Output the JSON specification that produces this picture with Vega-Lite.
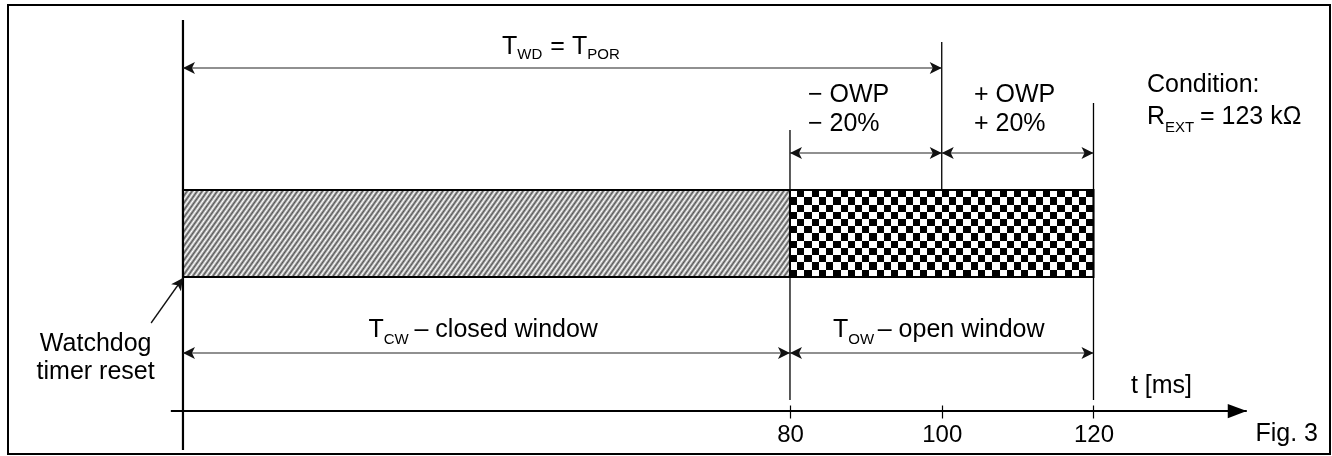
{
"$schema": "https://vega.github.io/schema/vega-lite/v6.json",
"width": 1332, "height": 456,
"autosize": {"type": "fit", "contains": "padding"},
"padding": {"left": 8, "top": 5, "right": 2, "bottom": 2},
"background": "white",
"config": {
  "view": {"stroke": "black", "strokeWidth": 2},
  "font": "Liberation Sans",
  "text": {"font": "Liberation Sans", "fontSize": 25, "color": "black", "align": "left", "baseline": "alphabetic"}
},
"datasets": {
  "phases": [
    {"phase": "closed", "t": 0, "t2": 80, "v": 26.4, "v2": 17.7},
    {"phase": "open", "t": 80, "t2": 120, "v": 26.4, "v2": 17.7}
  ],
  "markers": [
    {"t": 0, "v": 43.4, "v2": 0.4},
    {"t": 80, "v": 32.4, "v2": 5.4},
    {"t": 100, "v": 41.2, "v2": 26.4},
    {"t": 120, "v": 35.1, "v2": 5.4}
  ],
  "spans": [
    {"name": "T_WD", "t": 0, "t2": 100, "v": 38.6},
    {"name": "-OWP", "t": 80, "t2": 100, "v": 30.1},
    {"name": "+OWP", "t": 100, "t2": 120, "v": 30.1},
    {"name": "T_CW", "t": 0, "t2": 80, "v": 10.1},
    {"name": "T_OW", "t": 80, "t2": 120, "v": 10.1}
  ],
  "timeaxis": [{"t": -1.6, "t2": 140.2, "v": 4.3}],
  "pointer": [{"t": -4.2, "v": 13.1, "t2": 0, "v2": 17.6}],
  "notes": [
    {"id": "twd", "t": 50, "v": 40.0},
    {"id": "owpm", "t": 80, "v": 35.2},
    {"id": "owpp", "t": 100, "v": 35.2},
    {"id": "cond", "t": 120, "v": 36.2},
    {"id": "rext", "t": 120, "v": 33.0},
    {"id": "cw", "t": 40, "v": 11.7},
    {"id": "ow", "t": 100, "v": 11.7},
    {"id": "wd", "t": 0, "v": 10.3},
    {"id": "tms", "t": 120, "v": 6.1},
    {"id": "fig", "t": 151.17, "v": 1.3}
  ]
},
"encoding": {
  "x": {"field": "t", "type": "quantitative", "title": null,
        "scale": {"domain": [-23.06, 151.17], "nice": false, "zero": false},
        "axis": {"values": [80, 100, 120], "domain": false, "grid": false, "ticks": true, "tickSize": 13, "tickWidth": 1.2, "tickColor": "black",
                 "labelFontSize": 24, "labelFont": "Liberation Sans", "labelColor": "black", "labelBaseline": "alphabetic", "labelPadding": 23,
                 "labelFlush": false, "labelOverlap": false, "title": null, "offset": -49}},
  "y": {"field": "v", "type": "quantitative", "title": null,
        "scale": {"domain": [0, 44.9], "nice": false, "zero": false}, "axis": null}
},
"layer": [
  {"data": {"name": "phases"}, "transform": [{"filter": "datum.phase === 'closed'"}],
   "mark": {"type": "rect", "strokeWidth": 0, "fill": {"gradient": "linear", "x1": 0, "y1": 0, "x2": 1.09, "y2": 0.1095, "stops": [
{"offset":0,"color":"#555"},{"offset":0.00375,"color":"#fff"},{"offset":0.0075,"color":"#555"},{"offset":0.01125,"color":"#fff"},{"offset":0.015,"color":"#555"},{"offset":0.01875,"color":"#fff"},{"offset":0.0225,"color":"#555"},{"offset":0.02625,"color":"#fff"},
{"offset":0.03,"color":"#555"},{"offset":0.03375,"color":"#fff"},{"offset":0.0375,"color":"#555"},{"offset":0.04125,"color":"#fff"},{"offset":0.045,"color":"#555"},{"offset":0.04875,"color":"#fff"},{"offset":0.0525,"color":"#555"},{"offset":0.05625,"color":"#fff"},
{"offset":0.06,"color":"#555"},{"offset":0.06375,"color":"#fff"},{"offset":0.0675,"color":"#555"},{"offset":0.07125,"color":"#fff"},{"offset":0.075,"color":"#555"},{"offset":0.07875,"color":"#fff"},{"offset":0.0825,"color":"#555"},{"offset":0.08625,"color":"#fff"},
{"offset":0.09,"color":"#555"},{"offset":0.09375,"color":"#fff"},{"offset":0.0975,"color":"#555"},{"offset":0.10125,"color":"#fff"},{"offset":0.105,"color":"#555"},{"offset":0.10875,"color":"#fff"},{"offset":0.1125,"color":"#555"},{"offset":0.11625,"color":"#fff"},
{"offset":0.12,"color":"#555"},{"offset":0.12375,"color":"#fff"},{"offset":0.1275,"color":"#555"},{"offset":0.13125,"color":"#fff"},{"offset":0.135,"color":"#555"},{"offset":0.13875,"color":"#fff"},{"offset":0.1425,"color":"#555"},{"offset":0.14625,"color":"#fff"},
{"offset":0.15,"color":"#555"},{"offset":0.15375,"color":"#fff"},{"offset":0.1575,"color":"#555"},{"offset":0.16125,"color":"#fff"},{"offset":0.165,"color":"#555"},{"offset":0.16875,"color":"#fff"},{"offset":0.1725,"color":"#555"},{"offset":0.17625,"color":"#fff"},
{"offset":0.18,"color":"#555"},{"offset":0.18375,"color":"#fff"},{"offset":0.1875,"color":"#555"},{"offset":0.19125,"color":"#fff"},{"offset":0.195,"color":"#555"},{"offset":0.19875,"color":"#fff"},{"offset":0.2025,"color":"#555"},{"offset":0.20625,"color":"#fff"},
{"offset":0.21,"color":"#555"},{"offset":0.21375,"color":"#fff"},{"offset":0.2175,"color":"#555"},{"offset":0.22125,"color":"#fff"},{"offset":0.225,"color":"#555"},{"offset":0.22875,"color":"#fff"},{"offset":0.2325,"color":"#555"},{"offset":0.23625,"color":"#fff"},
{"offset":0.24,"color":"#555"},{"offset":0.24375,"color":"#fff"},{"offset":0.2475,"color":"#555"},{"offset":0.25125,"color":"#fff"},{"offset":0.255,"color":"#555"},{"offset":0.25875,"color":"#fff"},{"offset":0.2625,"color":"#555"},{"offset":0.26625,"color":"#fff"},
{"offset":0.27,"color":"#555"},{"offset":0.27375,"color":"#fff"},{"offset":0.2775,"color":"#555"},{"offset":0.28125,"color":"#fff"},{"offset":0.285,"color":"#555"},{"offset":0.28875,"color":"#fff"},{"offset":0.2925,"color":"#555"},{"offset":0.29625,"color":"#fff"},
{"offset":0.3,"color":"#555"},{"offset":0.30375,"color":"#fff"},{"offset":0.3075,"color":"#555"},{"offset":0.31125,"color":"#fff"},{"offset":0.315,"color":"#555"},{"offset":0.31875,"color":"#fff"},{"offset":0.3225,"color":"#555"},{"offset":0.32625,"color":"#fff"},
{"offset":0.33,"color":"#555"},{"offset":0.33375,"color":"#fff"},{"offset":0.3375,"color":"#555"},{"offset":0.34125,"color":"#fff"},{"offset":0.345,"color":"#555"},{"offset":0.34875,"color":"#fff"},{"offset":0.3525,"color":"#555"},{"offset":0.35625,"color":"#fff"},
{"offset":0.36,"color":"#555"},{"offset":0.36375,"color":"#fff"},{"offset":0.3675,"color":"#555"},{"offset":0.37125,"color":"#fff"},{"offset":0.375,"color":"#555"},{"offset":0.37875,"color":"#fff"},{"offset":0.3825,"color":"#555"},{"offset":0.38625,"color":"#fff"},
{"offset":0.39,"color":"#555"},{"offset":0.39375,"color":"#fff"},{"offset":0.3975,"color":"#555"},{"offset":0.40125,"color":"#fff"},{"offset":0.405,"color":"#555"},{"offset":0.40875,"color":"#fff"},{"offset":0.4125,"color":"#555"},{"offset":0.41625,"color":"#fff"},
{"offset":0.42,"color":"#555"},{"offset":0.42375,"color":"#fff"},{"offset":0.4275,"color":"#555"},{"offset":0.43125,"color":"#fff"},{"offset":0.435,"color":"#555"},{"offset":0.43875,"color":"#fff"},{"offset":0.4425,"color":"#555"},{"offset":0.44625,"color":"#fff"},
{"offset":0.45,"color":"#555"},{"offset":0.45375,"color":"#fff"},{"offset":0.4575,"color":"#555"},{"offset":0.46125,"color":"#fff"},{"offset":0.465,"color":"#555"},{"offset":0.46875,"color":"#fff"},{"offset":0.4725,"color":"#555"},{"offset":0.47625,"color":"#fff"},
{"offset":0.48,"color":"#555"},{"offset":0.48375,"color":"#fff"},{"offset":0.4875,"color":"#555"},{"offset":0.49125,"color":"#fff"},{"offset":0.495,"color":"#555"},{"offset":0.49875,"color":"#fff"},{"offset":0.5025,"color":"#555"},{"offset":0.50625,"color":"#fff"},
{"offset":0.51,"color":"#555"},{"offset":0.51375,"color":"#fff"},{"offset":0.5175,"color":"#555"},{"offset":0.52125,"color":"#fff"},{"offset":0.525,"color":"#555"},{"offset":0.52875,"color":"#fff"},{"offset":0.5325,"color":"#555"},{"offset":0.53625,"color":"#fff"},
{"offset":0.54,"color":"#555"},{"offset":0.54375,"color":"#fff"},{"offset":0.5475,"color":"#555"},{"offset":0.55125,"color":"#fff"},{"offset":0.555,"color":"#555"},{"offset":0.55875,"color":"#fff"},{"offset":0.5625,"color":"#555"},{"offset":0.56625,"color":"#fff"},
{"offset":0.57,"color":"#555"},{"offset":0.57375,"color":"#fff"},{"offset":0.5775,"color":"#555"},{"offset":0.58125,"color":"#fff"},{"offset":0.585,"color":"#555"},{"offset":0.58875,"color":"#fff"},{"offset":0.5925,"color":"#555"},{"offset":0.59625,"color":"#fff"},
{"offset":0.6,"color":"#555"},{"offset":0.60375,"color":"#fff"},{"offset":0.6075,"color":"#555"},{"offset":0.61125,"color":"#fff"},{"offset":0.615,"color":"#555"},{"offset":0.61875,"color":"#fff"},{"offset":0.6225,"color":"#555"},{"offset":0.62625,"color":"#fff"},
{"offset":0.63,"color":"#555"},{"offset":0.63375,"color":"#fff"},{"offset":0.6375,"color":"#555"},{"offset":0.64125,"color":"#fff"},{"offset":0.645,"color":"#555"},{"offset":0.64875,"color":"#fff"},{"offset":0.6525,"color":"#555"},{"offset":0.65625,"color":"#fff"},
{"offset":0.66,"color":"#555"},{"offset":0.66375,"color":"#fff"},{"offset":0.6675,"color":"#555"},{"offset":0.67125,"color":"#fff"},{"offset":0.675,"color":"#555"},{"offset":0.67875,"color":"#fff"},{"offset":0.6825,"color":"#555"},{"offset":0.68625,"color":"#fff"},
{"offset":0.69,"color":"#555"},{"offset":0.69375,"color":"#fff"},{"offset":0.6975,"color":"#555"},{"offset":0.70125,"color":"#fff"},{"offset":0.705,"color":"#555"},{"offset":0.70875,"color":"#fff"},{"offset":0.7125,"color":"#555"},{"offset":0.71625,"color":"#fff"},
{"offset":0.72,"color":"#555"},{"offset":0.72375,"color":"#fff"},{"offset":0.7275,"color":"#555"},{"offset":0.73125,"color":"#fff"},{"offset":0.735,"color":"#555"},{"offset":0.73875,"color":"#fff"},{"offset":0.7425,"color":"#555"},{"offset":0.74625,"color":"#fff"},
{"offset":0.75,"color":"#555"},{"offset":0.75375,"color":"#fff"},{"offset":0.7575,"color":"#555"},{"offset":0.76125,"color":"#fff"},{"offset":0.765,"color":"#555"},{"offset":0.76875,"color":"#fff"},{"offset":0.7725,"color":"#555"},{"offset":0.77625,"color":"#fff"},
{"offset":0.78,"color":"#555"},{"offset":0.78375,"color":"#fff"},{"offset":0.7875,"color":"#555"},{"offset":0.79125,"color":"#fff"},{"offset":0.795,"color":"#555"},{"offset":0.79875,"color":"#fff"},{"offset":0.8025,"color":"#555"},{"offset":0.80625,"color":"#fff"},
{"offset":0.81,"color":"#555"},{"offset":0.81375,"color":"#fff"},{"offset":0.8175,"color":"#555"},{"offset":0.82125,"color":"#fff"},{"offset":0.825,"color":"#555"},{"offset":0.82875,"color":"#fff"},{"offset":0.8325,"color":"#555"},{"offset":0.83625,"color":"#fff"},
{"offset":0.84,"color":"#555"},{"offset":0.84375,"color":"#fff"},{"offset":0.8475,"color":"#555"},{"offset":0.85125,"color":"#fff"},{"offset":0.855,"color":"#555"},{"offset":0.85875,"color":"#fff"},{"offset":0.8625,"color":"#555"},{"offset":0.86625,"color":"#fff"},
{"offset":0.87,"color":"#555"},{"offset":0.87375,"color":"#fff"},{"offset":0.8775,"color":"#555"},{"offset":0.88125,"color":"#fff"},{"offset":0.885,"color":"#555"},{"offset":0.88875,"color":"#fff"},{"offset":0.8925,"color":"#555"},{"offset":0.89625,"color":"#fff"},
{"offset":0.9,"color":"#555"},{"offset":0.90375,"color":"#fff"},{"offset":0.9075,"color":"#555"},{"offset":0.91125,"color":"#fff"},{"offset":0.915,"color":"#555"},{"offset":0.91875,"color":"#fff"},{"offset":0.9225,"color":"#555"},{"offset":0.92625,"color":"#fff"},
{"offset":0.93,"color":"#555"},{"offset":0.93375,"color":"#fff"},{"offset":0.9375,"color":"#555"},{"offset":0.94125,"color":"#fff"},{"offset":0.945,"color":"#555"},{"offset":0.94875,"color":"#fff"},{"offset":0.9525,"color":"#555"},{"offset":0.95625,"color":"#fff"},
{"offset":0.96,"color":"#555"},{"offset":0.96375,"color":"#fff"},{"offset":0.9675,"color":"#555"},{"offset":0.97125,"color":"#fff"},{"offset":0.975,"color":"#555"},{"offset":0.97875,"color":"#fff"},{"offset":0.9825,"color":"#555"},{"offset":0.98625,"color":"#fff"},
{"offset":0.99,"color":"#555"},{"offset":0.99375,"color":"#fff"},{"offset":0.9975,"color":"#555"}
   ]}},
   "encoding": {"x2": {"field": "t2"}, "y2": {"field": "v2"}}},

  {"data": {"name": "phases"}, "transform": [{"filter": "datum.phase === 'open'"}],
   "mark": {"type": "rect", "strokeWidth": 0, "fill": {"gradient": "linear", "x1": 0, "y1": 0, "x2": 1, "y2": 0, "stops": [
{"offset":0,"color":"#000"},{"offset":0.0238,"color":"#000"},{"offset":0.0238,"color":"#fff"},{"offset":0.0476,"color":"#fff"},
{"offset":0.0476,"color":"#000"},{"offset":0.0714,"color":"#000"},{"offset":0.0714,"color":"#fff"},{"offset":0.0952,"color":"#fff"},
{"offset":0.0952,"color":"#000"},{"offset":0.119,"color":"#000"},{"offset":0.119,"color":"#fff"},{"offset":0.1429,"color":"#fff"},
{"offset":0.1429,"color":"#000"},{"offset":0.1667,"color":"#000"},{"offset":0.1667,"color":"#fff"},{"offset":0.1905,"color":"#fff"},
{"offset":0.1905,"color":"#000"},{"offset":0.2143,"color":"#000"},{"offset":0.2143,"color":"#fff"},{"offset":0.2381,"color":"#fff"},
{"offset":0.2381,"color":"#000"},{"offset":0.2619,"color":"#000"},{"offset":0.2619,"color":"#fff"},{"offset":0.2857,"color":"#fff"},
{"offset":0.2857,"color":"#000"},{"offset":0.3095,"color":"#000"},{"offset":0.3095,"color":"#fff"},{"offset":0.3333,"color":"#fff"},
{"offset":0.3333,"color":"#000"},{"offset":0.3571,"color":"#000"},{"offset":0.3571,"color":"#fff"},{"offset":0.381,"color":"#fff"},
{"offset":0.381,"color":"#000"},{"offset":0.4048,"color":"#000"},{"offset":0.4048,"color":"#fff"},{"offset":0.4286,"color":"#fff"},
{"offset":0.4286,"color":"#000"},{"offset":0.4524,"color":"#000"},{"offset":0.4524,"color":"#fff"},{"offset":0.4762,"color":"#fff"},
{"offset":0.4762,"color":"#000"},{"offset":0.5,"color":"#000"},{"offset":0.5,"color":"#fff"},{"offset":0.5238,"color":"#fff"},
{"offset":0.5238,"color":"#000"},{"offset":0.5476,"color":"#000"},{"offset":0.5476,"color":"#fff"},{"offset":0.5714,"color":"#fff"},
{"offset":0.5714,"color":"#000"},{"offset":0.5952,"color":"#000"},{"offset":0.5952,"color":"#fff"},{"offset":0.619,"color":"#fff"},
{"offset":0.619,"color":"#000"},{"offset":0.6429,"color":"#000"},{"offset":0.6429,"color":"#fff"},{"offset":0.6667,"color":"#fff"},
{"offset":0.6667,"color":"#000"},{"offset":0.6905,"color":"#000"},{"offset":0.6905,"color":"#fff"},{"offset":0.7143,"color":"#fff"},
{"offset":0.7143,"color":"#000"},{"offset":0.7381,"color":"#000"},{"offset":0.7381,"color":"#fff"},{"offset":0.7619,"color":"#fff"},
{"offset":0.7619,"color":"#000"},{"offset":0.7857,"color":"#000"},{"offset":0.7857,"color":"#fff"},{"offset":0.8095,"color":"#fff"},
{"offset":0.8095,"color":"#000"},{"offset":0.8333,"color":"#000"},{"offset":0.8333,"color":"#fff"},{"offset":0.8571,"color":"#fff"},
{"offset":0.8571,"color":"#000"},{"offset":0.881,"color":"#000"},{"offset":0.881,"color":"#fff"},{"offset":0.9048,"color":"#fff"},
{"offset":0.9048,"color":"#000"},{"offset":0.9286,"color":"#000"},{"offset":0.9286,"color":"#fff"},{"offset":0.9524,"color":"#fff"},
{"offset":0.9524,"color":"#000"},{"offset":0.9762,"color":"#000"},{"offset":0.9762,"color":"#fff"},{"offset":1,"color":"#fff"}
   ]}},
   "encoding": {"x2": {"field": "t2"}, "y2": {"field": "v2"}}},

  {"data": {"name": "phases"}, "transform": [{"filter": "datum.phase === 'open'"}],
   "mark": {"type": "rect", "strokeWidth": 0, "blend": "difference", "fill": {"gradient": "linear", "x1": 0, "y1": 0, "x2": 0, "y2": 1, "stops": [
{"offset":0,"color":"#fff"},{"offset":0.0833,"color":"#fff"},{"offset":0.0833,"color":"#000"},{"offset":0.1667,"color":"#000"},
{"offset":0.1667,"color":"#fff"},{"offset":0.25,"color":"#fff"},{"offset":0.25,"color":"#000"},{"offset":0.3333,"color":"#000"},
{"offset":0.3333,"color":"#fff"},{"offset":0.4167,"color":"#fff"},{"offset":0.4167,"color":"#000"},{"offset":0.5,"color":"#000"},
{"offset":0.5,"color":"#fff"},{"offset":0.5833,"color":"#fff"},{"offset":0.5833,"color":"#000"},{"offset":0.6667,"color":"#000"},
{"offset":0.6667,"color":"#fff"},{"offset":0.75,"color":"#fff"},{"offset":0.75,"color":"#000"},{"offset":0.8333,"color":"#000"},
{"offset":0.8333,"color":"#fff"},{"offset":0.9167,"color":"#fff"},{"offset":0.9167,"color":"#000"},{"offset":1,"color":"#000"}
   ]}},
   "encoding": {"x2": {"field": "t2"}, "y2": {"field": "v2"}}},

  {"data": {"name": "phases"},
   "mark": {"type": "rect", "fillOpacity": 0, "stroke": "black", "strokeWidth": 2},
   "encoding": {"x2": {"field": "t2"}, "y2": {"field": "v2"}}},

  {"data": {"name": "markers"}, "transform": [{"filter": "datum.t === 0"}],
   "mark": {"type": "rule", "color": "black", "strokeWidth": 2.2},
   "encoding": {"y2": {"field": "v2"}}},

  {"data": {"name": "markers"}, "transform": [{"filter": "datum.t > 0"}],
   "mark": {"type": "rule", "color": "black", "strokeWidth": 1.3},
   "encoding": {"y2": {"field": "v2"}}},

  {"data": {"name": "spans"},
   "mark": {"type": "rule", "color": "#222", "strokeWidth": 1.2},
   "encoding": {"x2": {"field": "t2"}}},

  {"data": {"name": "spans"},
   "mark": {"type": "point", "shape": "M0,0L-2,-1L-1.5,0L-2,1Z", "size": 144, "filled": true, "color": "#111", "opacity": 1, "strokeWidth": 0, "angle": 0},
   "encoding": {"x": {"field": "t2", "type": "quantitative", "title": null, "scale": {"domain": [-23.06, 151.17], "nice": false, "zero": false}}}},

  {"data": {"name": "spans"},
   "mark": {"type": "point", "shape": "M0,0L-2,-1L-1.5,0L-2,1Z", "size": 144, "filled": true, "color": "#111", "opacity": 1, "strokeWidth": 0, "angle": 180}},

  {"data": {"name": "timeaxis"},
   "mark": {"type": "rule", "color": "black", "strokeWidth": 2},
   "encoding": {"x2": {"field": "t2"}}},

  {"data": {"name": "timeaxis"},
   "mark": {"type": "point", "shape": "M0,0L-2,-0.75L-2,0.75Z", "size": 361, "filled": true, "color": "black", "opacity": 1, "strokeWidth": 0},
   "encoding": {"x": {"field": "t2", "type": "quantitative", "title": null, "scale": {"domain": [-23.06, 151.17], "nice": false, "zero": false}}}},

  {"data": {"name": "pointer"},
   "mark": {"type": "rule", "color": "#111", "strokeWidth": 1.3},
   "encoding": {"x2": {"field": "t2"}, "y2": {"field": "v2"}}},

  {"data": {"name": "pointer"},
   "mark": {"type": "point", "shape": "M0,0L-2,-1L-1.5,0L-2,1Z", "size": 144, "filled": true, "color": "#111", "opacity": 1, "strokeWidth": 0, "angle": 305.4},
   "encoding": {"x": {"field": "t2", "type": "quantitative", "title": null, "scale": {"domain": [-23.06, 151.17], "nice": false, "zero": false}},
                "y": {"field": "v2", "type": "quantitative", "title": null, "scale": {"domain": [0, 44.9], "nice": false, "zero": false}, "axis": null}}},

  {"data": {"name": "notes"}, "transform": [{"filter": "datum.id === 'twd'"}], "mark": {"type": "text", "text": "T", "dx": -60.3}},
  {"data": {"name": "notes"}, "transform": [{"filter": "datum.id === 'twd'"}], "mark": {"type": "text", "text": "WD", "dx": -45.0, "dy": 5, "fontSize": 15}},
  {"data": {"name": "notes"}, "transform": [{"filter": "datum.id === 'twd'"}], "mark": {"type": "text", "text": "=", "dx": -12.0}},
  {"data": {"name": "notes"}, "transform": [{"filter": "datum.id === 'twd'"}], "mark": {"type": "text", "text": "T", "dx": 9.6}},
  {"data": {"name": "notes"}, "transform": [{"filter": "datum.id === 'twd'"}], "mark": {"type": "text", "text": "POR", "dx": 24.9, "dy": 5, "fontSize": 15}},

  {"data": {"name": "notes"}, "transform": [{"filter": "datum.id === 'owpm'"}], "mark": {"type": "text", "text": ["− OWP", "− 20%"], "lineHeight": 29, "dx": 18}},
  {"data": {"name": "notes"}, "transform": [{"filter": "datum.id === 'owpp'"}], "mark": {"type": "text", "text": ["+ OWP", "+ 20%"], "lineHeight": 29, "dx": 32.2}},

  {"data": {"name": "notes"}, "transform": [{"filter": "datum.id === 'cond'"}], "mark": {"type": "text", "text": "Condition:", "dx": 53.5}},
  {"data": {"name": "notes"}, "transform": [{"filter": "datum.id === 'rext'"}], "mark": {"type": "text", "text": "R", "dx": 53.5}},
  {"data": {"name": "notes"}, "transform": [{"filter": "datum.id === 'rext'"}], "mark": {"type": "text", "text": "EXT", "dx": 71.6, "dy": 8, "fontSize": 15}},
  {"data": {"name": "notes"}, "transform": [{"filter": "datum.id === 'rext'"}], "mark": {"type": "text", "text": "= 123 kΩ", "dx": 106.5}},

  {"data": {"name": "notes"}, "transform": [{"filter": "datum.id === 'cw'"}], "mark": {"type": "text", "text": "T", "dx": -118.0}},
  {"data": {"name": "notes"}, "transform": [{"filter": "datum.id === 'cw'"}], "mark": {"type": "text", "text": "CW", "dx": -102.7, "dy": 7, "fontSize": 15}},
  {"data": {"name": "notes"}, "transform": [{"filter": "datum.id === 'cw'"}], "mark": {"type": "text", "text": "– closed window", "dx": -72.0}},

  {"data": {"name": "notes"}, "transform": [{"filter": "datum.id === 'ow'"}], "mark": {"type": "text", "text": "T", "dx": -108.8}},
  {"data": {"name": "notes"}, "transform": [{"filter": "datum.id === 'ow'"}], "mark": {"type": "text", "text": "OW", "dx": -93.5, "dy": 7, "fontSize": 15}},
  {"data": {"name": "notes"}, "transform": [{"filter": "datum.id === 'ow'"}], "mark": {"type": "text", "text": "– open window", "dx": -64.0}},

  {"data": {"name": "notes"}, "transform": [{"filter": "datum.id === 'wd'"}], "mark": {"type": "text", "text": ["Watchdog", "timer reset"], "lineHeight": 28, "align": "center", "dx": -87.3}},
  {"data": {"name": "notes"}, "transform": [{"filter": "datum.id === 'tms'"}], "mark": {"type": "text", "text": "t [ms]", "align": "center", "dx": 68}},
  {"data": {"name": "notes"}, "transform": [{"filter": "datum.id === 'fig'"}], "mark": {"type": "text", "text": "Fig. 3", "align": "right", "dx": -12}}
]
}
